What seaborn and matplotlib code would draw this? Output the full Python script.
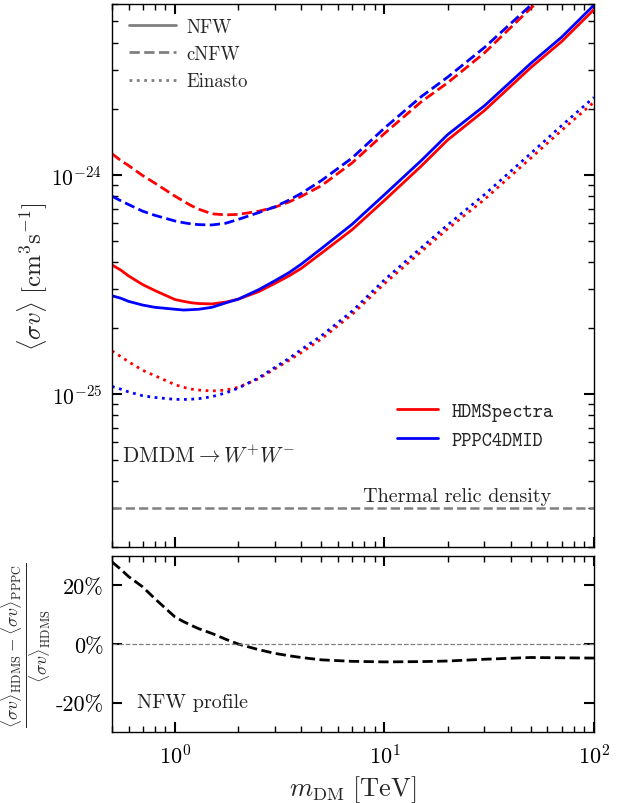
import numpy as np
import pandas as pd
import matplotlib
matplotlib.use("Agg")
import matplotlib.pyplot as plt
import seaborn as sns
from matplotlib.lines import Line2D
from matplotlib.ticker import LogLocator, NullFormatter, FixedLocator, FixedFormatter
from matplotlib.font_manager import FontProperties

# ---------------- data ----------------
mass = [0.5, 0.55, 0.6, 0.7, 0.8, 1.0, 1.1, 1.2, 1.3, 1.5, 1.75, 2.0, 2.5, 3.0, 3.5,
        4.0, 5.0, 7.0, 10.0, 15.0, 20.0, 30.0, 50.0, 70.0, 100.0]  # TeV

# NFW (units 1e-25)
nfw_hdms = [3.87, 3.67, 3.45, 3.15, 2.96, 2.69, 2.64, 2.60, 2.58, 2.57, 2.62, 2.70, 2.92,
            3.19, 3.45, 3.73, 4.38, 5.60, 7.63, 10.95, 14.37, 19.6, 30.8, 40.4, 56.6]
nfw_pppc = [2.80, 2.73, 2.64, 2.54, 2.48, 2.43, 2.41, 2.42, 2.43, 2.48, 2.60, 2.70, 2.98,
            3.28, 3.57, 3.90, 4.60, 5.93, 8.10, 11.6, 15.2, 20.6, 32.2, 42.3, 59.3]
# cNFW (units 1e-25)
cnfw_hdms = [12.45, 11.6, 11.0, 9.9, 9.15, 7.97, 7.55, 7.2, 6.95, 6.62, 6.55, 6.58, 6.8,
             7.1, 7.5, 7.95, 8.9, 11.3, 15.4, 21.5, 26.2, 35.9, 57.5, 76.0, 105.0]
cnfw_pppc = [7.97, 7.6, 7.3, 6.81, 6.52, 6.14, 6.03, 5.95, 5.91, 5.89, 6.0, 6.24, 6.7,
             7.13, 7.65, 8.2, 9.39, 11.9, 16.3, 22.7, 27.8, 38.0, 59.3, 79.0, 110.0]
# Einasto (units 1e-26)
ein_hdms = [15.7, 14.8, 14.0, 12.8, 12.1, 11.0, 10.7, 10.5, 10.4, 10.3, 10.4, 10.7, 11.7,
            13.0, 14.2, 15.4, 17.8, 23.0, 31.8, 44.6, 56.5, 77.0, 119.0, 159.0, 214.0]
ein_pppc = [10.8, 10.5, 10.2, 9.8, 9.62, 9.43, 9.42, 9.45, 9.5, 9.7, 10.1, 10.6, 11.8,
            13.2, 14.5, 15.9, 18.4, 23.8, 33.1, 46.4, 58.9, 81.0, 125.0, 167.0, 225.0]

thermal_relic = 3e-26

# relative difference (HDMS - PPPC)/HDMS for NFW, in %
ratio_pct = [28.0, 25.5, 23.0, 19.5, 15.5, 9.2, 7.6, 6.3, 5.2, 3.6, 1.6, 0.0, -1.9,
             -3.2, -4.0, -4.6, -5.4, -5.9, -6.1, -6.0, -5.8, -5.2, -4.6, -4.7, -4.8]

# ---------------- style ----------------
sns.set_theme(style="ticks")
plt.rcParams.update({
    "font.family": "serif",
    "font.serif": ["cmr10"],
    "mathtext.fontset": "cm",
    "axes.unicode_minus": False,
    "axes.formatter.use_mathtext": True,
    "axes.edgecolor": "black",
    "axes.linewidth": 1.0,
    "xtick.direction": "in",
    "ytick.direction": "in",
    "xtick.top": True,
    "ytick.right": True,
    "xtick.major.size": 7,
    "ytick.major.size": 7,
    "xtick.minor.size": 4,
    "ytick.minor.size": 4,
    "xtick.major.width": 1.5,
    "ytick.major.width": 1.5,
    "xtick.minor.width": 1.0,
    "ytick.minor.width": 1.0,
    "xtick.color": "black",
    "ytick.color": "black",
    "lines.solid_joinstyle": "round",
    "lines.dash_joinstyle": "round",
})

fig = plt.figure(figsize=(6.28, 8.04), dpi=100)
ax = fig.add_axes([0.1783, 0.3184, 0.7675, 0.6754])
axr = fig.add_axes([0.1783, 0.0883, 0.7675, 0.2189])

lw = 2.0
series = [
    (nfw_hdms, 1e-25, "red", "-"),
    (nfw_pppc, 1e-25, "blue", "-"),
    (cnfw_hdms, 1e-25, "red", "--"),
    (cnfw_pppc, 1e-25, "blue", "--"),
    (ein_hdms, 1e-26, "red", ":"),
    (ein_pppc, 1e-26, "blue", ":"),
]
m_arr = np.array(mass)
for vals, unit, col, ls in series:
    sns.lineplot(x=m_arr, y=np.array(vals) * unit, ax=ax, color=col,
                 linestyle=ls, lw=lw, sort=False, estimator=None)

ax.axhline(thermal_relic, color="gray", ls="--", lw=1.8)

ax.set_xscale("log")
ax.set_yscale("log")
ax.set_xlim(0.5, 100)
ax.set_ylim(2e-26, 6e-24)
ax.xaxis.set_minor_locator(LogLocator(base=10, subs=np.arange(2, 10)))
ax.yaxis.set_minor_locator(LogLocator(base=10, subs=np.arange(2, 10)))
ax.yaxis.set_minor_formatter(NullFormatter())
ax.xaxis.set_minor_formatter(NullFormatter())
ax.tick_params(axis="x", which="both", labelbottom=False)
ax.tick_params(axis="y", which="major", labelsize=15.5, pad=7)
ax.set_xlabel("")
ax.set_ylabel(r"$\langle \sigma v \rangle\ [\mathrm{cm}^3\mathrm{s}^{-1}]$", fontsize=18)
ax.yaxis.set_label_coords(-0.129, 0.5)

# profile legend
prof_handles = [Line2D([], [], color="gray", ls="-", lw=2),
                Line2D([], [], color="gray", ls="--", lw=2),
                Line2D([], [], color="gray", ls=":", lw=2)]
leg1 = ax.legend(prof_handles, ["NFW", "cNFW", "Einasto"], loc="upper left",
                 frameon=False, fontsize=13.5, handlelength=2.5, labelspacing=0.5,
                 handletextpad=0.55, bbox_to_anchor=(0.0, 1.006))
ax.add_artist(leg1)

spec_handles = [Line2D([], [], color="red", ls="-", lw=2),
                Line2D([], [], color="blue", ls="-", lw=2)]
leg2 = ax.legend(spec_handles, ["HDMSpectra", "PPPC4DMID"], loc="lower left",
                 frameon=False, prop=FontProperties(family="cmtt10", size=14),
                 handlelength=2.1, labelspacing=0.55, handletextpad=0.7,
                 bbox_to_anchor=(0.556, 0.146))

ax.text(0.02, 0.171, r"$\mathrm{DMDM} \rightarrow W^{+}W^{-}$", transform=ax.transAxes,
        fontsize=15.5, ha="left", va="center")
ax.text(0.716, 0.078, "Thermal relic density", transform=ax.transAxes,
        fontsize=14.5, ha="center", va="bottom", color="#222222")

# ratio panel
sns.lineplot(x=m_arr, y=np.array(ratio_pct), ax=axr, color="black", linestyle="--",
             lw=2, sort=False, estimator=None)
axr.axhline(0, color="gray", ls="--", lw=0.9)
axr.set_xscale("log")
axr.set_xlim(0.5, 100)
axr.set_ylim(-30, 30)
axr.xaxis.set_minor_locator(LogLocator(base=10, subs=np.arange(2, 10)))
axr.xaxis.set_minor_formatter(NullFormatter())
axr.yaxis.set_major_locator(FixedLocator([-20, 0, 20]))
axr.yaxis.set_major_formatter(FixedFormatter(["-20%", "0%", "20%"]))
axr.yaxis.set_minor_locator(FixedLocator([]))
axr.tick_params(axis="both", which="major", labelsize=16, pad=8)
axr.tick_params(axis="y", which="major", pad=6)
axr.set_xlabel(r"$m_{\rm DM}\ [\mathrm{TeV}]$", fontsize=19, labelpad=4)
axr.set_ylabel(r"$\frac{\langle\sigma v\rangle_{\rm HDMS} - \langle\sigma v\rangle_{\rm PPPC}}{\langle\sigma v\rangle_{\rm HDMS}}$",
               fontsize=18)
axr.yaxis.set_label_coords(-0.122, 0.5)
axr.text(0.052, 0.17, "NFW profile", transform=axr.transAxes, fontsize=14.5,
         ha="left", va="center", color="#222222")

fig.savefig("out.png", dpi=100)
